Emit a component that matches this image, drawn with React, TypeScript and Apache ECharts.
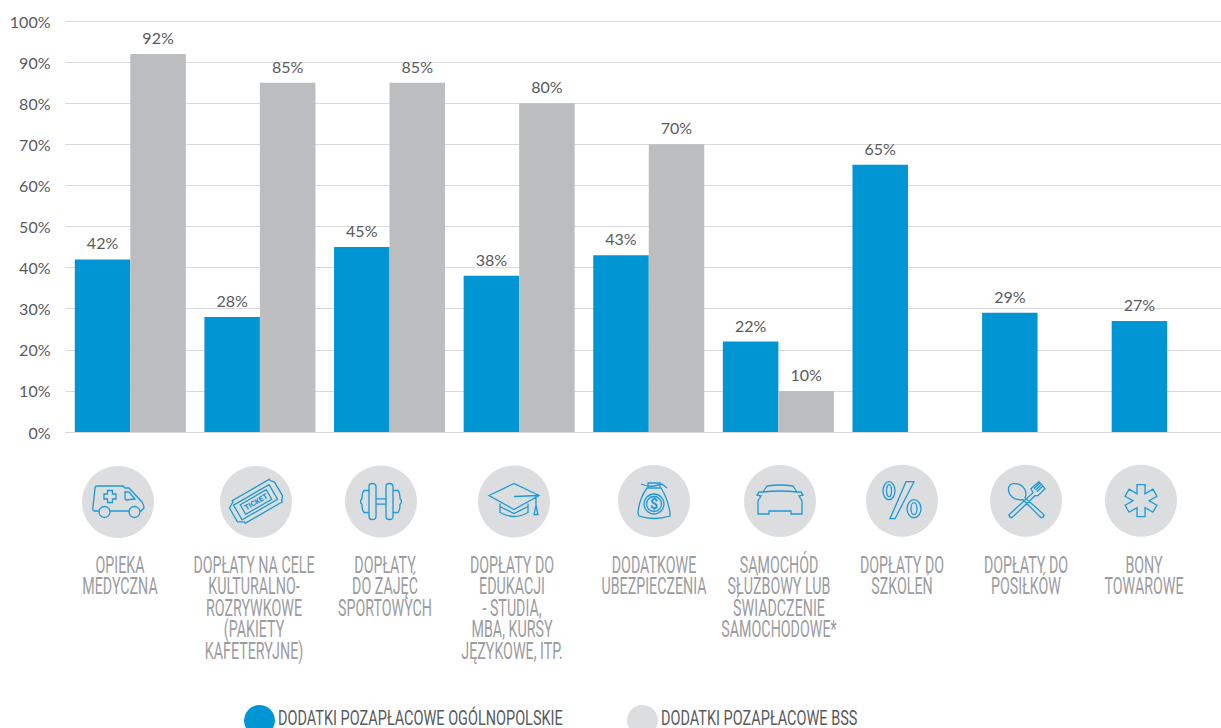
import React, { useEffect, useRef } from "react";
import * as echarts from "echarts";

const categories = [
  "OPIEKA\nMEDYCZNA",
  "DOPŁATY NA CELE\nKULTURALNO-\nROZRYWKOWE\n(PAKIETY\nKAFETERYJNE)",
  "DOPŁATY\nDO ZAJĘĆ\nSPORTOWYCH",
  "DOPŁATY DO\nEDUKACJI\n- STUDIA,\nMBA, KURSY\nJĘZYKOWE, ITP.",
  "DODATKOWE\nUBEZPIECZENIA",
  "SAMOCHÓD\nSŁUŻBOWY LUB\nŚWIADCZENIE\nSAMOCHODOWE*",
  "DOPŁATY DO\nSZKOLEŃ",
  "DOPŁATY DO\nPOSIŁKÓW",
  "BONY\nTOWAROWE",
];
const nationwideName = "DODATKI POZAPŁACOWE OGÓLNOPOLSKIE";
const bssName = "DODATKI POZAPŁACOWE BSS";
const nationwide = [42, 28, 45, 38, 43, 22, 65, 29, 27];
const bss = [92, 85, 85, 80, 70, 10, null, null, null];

const iconCentersX = [118, 256, 381, 514, 654, 780, 902, 1026, 1141];
const iconCentersY = [502, 502, 501.5, 501.5, 501, 501, 500.7, 500.7, 500.7];
const labelCentersX = [120, 254, 385, 512, 654, 779, 902, 1026, 1144];

const BLUE = "#0095d3";
const GREY = "#bcbdbf";
const DISC = "#dcddde";
const ICON = "#1b9ad8";
const MUTED = "#9b9c9f";
const INK = "#595a5c";

const circle = (cx: number, cy: number, rx: number, ry = rx) =>
  `M${cx - rx} ${cy}A${rx} ${ry} 0 1 1 ${cx + rx} ${cy}A${rx} ${ry} 0 1 1 ${cx - rx} ${cy}Z`;

// Outlined pictograms, each drawn around its own disc centre.
const iconPaths: Record<string, string> = {
  ambulance:
    "M-19 9L-24 9Q-26 8 -25 5L-23 -14Q-23 -16 -20 -16L5 -16L7 -14L11 -14L24 0Q26 3 26 6L23 9L22 9M11 9L-8 9" +
    circle(-13.5, 10, 5.5) + circle(16.5, 10, 5.5) +
    "M-10.5 -11.5L-5.5 -11.5L-5.5 -8L-2 -8L-2 -3L-5.5 -3L-5.5 0.5L-10.5 0.5L-10.5 -3L-14 -3L-14 -8L-10.5 -8Z" +
    "M7 -10L11 -10L17 -3L8 -2Q7 -2 7 -4Z",
  ticket:
    "M-26 -8L-20 -11.5L-20 -13L23 -13L23 -11.5L26 -8L26 8L23 11.5L23 13L-20 13L-20 11.5L-26 8Z" +
    "M-21 -8.5L20 -8.5L20 8.5L-21 8.5Z M-15 -5.5L15 -5.5L15 5.5L-15 5.5Z",
  dumbbell:
    "M-12 -15Q-12 -18 -9 -18Q-5 -18 -5 -15L-5 15Q-5 18 -9 18Q-12 18 -12 15Z" +
    "M5 -15Q5 -18 8.5 -18Q12 -18 12 -15L12 15Q12 18 8.5 18Q5 18 5 15Z" +
    "M-5 -2.7L5 -2.7M-5 2.7L5 2.7" +
    "M-12 -11L-17 -11Q-19 -9 -19 -3Q-22 0 -19 3Q-19 9 -17 11L-12 11" +
    "M12 -11L17 -11Q19 -9 19 -3Q22 0 19 3Q19 9 17 11L12 11",
  cap:
    "M-25 -6L0 -18L25 -6L0 8Z M-14 2L-14 11Q0 19 14 11L14 2 M-14 5L0 12L14 5" +
    "M0 -5L25 -6L22 -5 M22 -6L22 4L24 13L20 13L22 4",
  bag:
    "M-6 -13L-6 -18L6 -18L6 -13Z M-13 -17Q-6 -14 0 -15L8 -17L13 -13 M-7 -13Q-15 -2 -16 12L-15 15Q0 20 16 15L16 12Q14 -2 7 -13Z" +
    circle(0, 3, 10) + circle(0, 3, 7.5),
  car:
    "M-17 -9L-13 -15Q0 -17 13 -15L17 -9L21 -9L23 -6L19 -5L22 0L22 13L11 13L11 10L-11 10L-11 13L-22 13L-22 0L-19 -5L-23 -6L-21 -9L-17 -9" +
    "M-17 -9Q0 -11 17 -9",
  percent:
    circle(-13, -10, 6, 9) + circle(-13, -10, 2.5, 6) +
    circle(12, 8, 7, 9) + circle(12, 8, 3, 6) +
    "M4 -19L12 -19L-7 18L-12 18Z",
  cutlery:
    "M-3 -1Q-13 0 -17 -8Q-19 -16 -13 -17Q-5 -18 -1 -11Q1 -6 -1 -3L18 14Q18 17 15 17L-3 -1Z" +
    "M-17 14L7 -8L5 -12L13 -19L19 -12L12 -5L9 -5L-14 17Q-17 17 -17 14Z" +
    "M8 -12L14 -18M9.500 -10.500L15.500 -16.500M11 -9L17 -15",
  star:
    "M-4 -16L4 -16L4 -6.9L11.9 -11.5L15.9 -4.5L8 0L15.9 4.5L11.9 11.5L4 6.9L4 16L-4 16L-4 6.9L-11.9 11.5L-15.9 4.5L-8 0L-15.9 -4.5L-11.9 -11.5L-4 -6.9Z",
};
const iconOrder = ["ambulance", "ticket", "dumbbell", "cap", "bag", "car", "percent", "cutlery", "star"];
Object.keys(iconPaths).forEach((name) => {
  echarts.graphic.registerShape(name, echarts.graphic.extendPath(iconPaths[name], {}));
});

const condensed = {
  fontFamily: "Roboto",
  fontWeight: 400,
};

function buildGraphics() {
  const elements: any[] = [];
  iconOrder.forEach((name, i) => {
    const cx = iconCentersX[i];
    const cy = iconCentersY[i];
    elements.push({ type: "circle", shape: { cx, cy, r: 36 }, style: { fill: DISC } });
    elements.push({
      type: name,
      x: cx,
      y: cy,
      rotation: name === "ticket" ? Math.PI / 6 : 0,
      style: { fill: "none", stroke: ICON, lineWidth: 1.3 },
    });
    if (name === "ticket") {
      elements.push({
        type: "text",
        x: cx,
        y: cy,
        rotation: Math.PI / 6,
        style: {
          text: "TICKET",
          fill: ICON,
          fontFamily: "Roboto",
          fontWeight: 900,
          fontSize: 7.5,
          textAlign: "center",
          textVerticalAlign: "middle",
        },
      });
    }
    if (name === "bag") {
      elements.push({
        type: "text",
        x: cx,
        y: cy + 3,
        style: {
          text: "$",
          fill: ICON,
          fontFamily: "Roboto",
          fontWeight: 700,
          fontSize: 14,
          textAlign: "center",
          textVerticalAlign: "middle",
        },
      });
    }
  });
  categories.forEach((label, i) => {
    elements.push({
      type: "text",
      x: labelCentersX[i],
      y: 554,
      scaleX: 0.62,
      style: {
        ...condensed,
        fontSize: 23,
        text: label,
        fill: MUTED,
        lineHeight: 21.6,
        textAlign: "center",
        textVerticalAlign: "top",
      },
    });
  });
  [
    { cx: 259.5, color: BLUE, name: nationwideName, x: 278 },
    { cx: 642.5, color: DISC, name: bssName, x: 661 },
  ].forEach((item) => {
    elements.push({ type: "circle", shape: { cx: item.cx, cy: 720.5, r: 15.5 }, style: { fill: item.color } });
    elements.push({
      type: "text",
      x: item.x,
      y: 717,
      scaleX: 0.69,
      style: {
        ...condensed,
        fontSize: 21,
        text: item.name,
        fill: INK,
        textAlign: "left",
        textVerticalAlign: "middle",
      },
    });
  });
  return elements;
}

const valueLabel = {
  show: true,
  position: "top" as const,
  distance: 8.5,
  formatter: "{c}%",
  color: INK,
  fontFamily: "Lato",
  fontSize: 16,
};

export default function App() {
  const host = useRef<HTMLDivElement>(null);
  useEffect(() => {
    const chart = echarts.init(host.current!, undefined, { renderer: "svg" });
    chart.setOption({
      animation: false,
      // The last category's empty half runs past the visible frame.
      grid: { left: 65.5, top: 21, bottom: 296, right: 0, containLabel: false },
      xAxis: {
        type: "category",
        data: categories,
        axisTick: { show: false },
        axisLabel: { show: false },
        axisLine: { lineStyle: { color: "#d9d9d9", width: 1 } },
      },
      yAxis: {
        type: "value",
        min: 0,
        max: 100,
        interval: 10,
        axisLine: { show: false },
        axisTick: { show: false },
        axisLabel: {
          formatter: "{value}%",
          margin: 15,
          color: INK,
          fontFamily: "Lato",
          fontSize: 16,
        },
        splitLine: { lineStyle: { color: "#d9d9d9", width: 1 } },
      },
      series: [
        {
          type: "bar",
          name: nationwideName,
          data: nationwide,
          barWidth: 55.5,
          barGap: 0,
          itemStyle: { color: BLUE },
          label: valueLabel,
        },
        {
          type: "bar",
          name: bssName,
          data: bss,
          barWidth: 55.5,
          barGap: 0,
          itemStyle: { color: GREY },
          label: valueLabel,
        },
      ],
      graphic: { elements: buildGraphics() },
    });
    return () => chart.dispose();
  }, []);
  return (
    <div style={{ position: "absolute", left: 0, top: 0, width: 1221, height: 728, overflow: "hidden", background: "#fff" }}>
      <div ref={host} style={{ width: 1232, height: 728 }} />
    </div>
  );
}
